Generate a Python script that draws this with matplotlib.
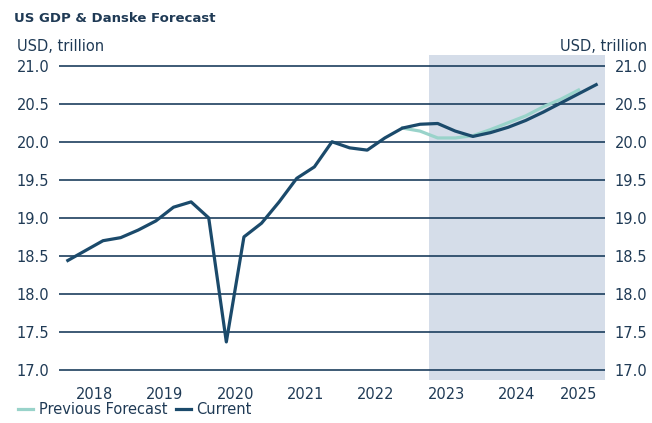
import numpy as np
import matplotlib
matplotlib.use("Agg")
import matplotlib.pyplot as plt

# Quarterly data, 2018Q1 - 2025Q3
quarters = [f"{y}Q{q}" for y in range(2018, 2026) for q in range(1, 5)][:31]

current = [18.44, 18.57, 18.70, 18.74,
           18.84, 18.96, 19.14, 19.21,
           19.00, 17.37, 18.75, 18.93,
           19.21, 19.52, 19.67, 20.00,
           19.92, 19.89, 20.05, 20.18,
           20.23, 20.24, 20.14, 20.07,
           20.12, 20.19, 20.28, 20.39,
           20.51, 20.63, 20.75]

# previous forecast runs 2022Q4 - 2025Q2
previous = [np.nan] * 19 + [20.18, 20.14, 20.05, 20.05,
                            20.08, 20.16, 20.25, 20.34,
                            20.46, 20.56, 20.68] + [np.nan]

years = ["2018", "2019", "2020", "2021", "2022", "2023", "2024", "2025"]
yticks = [17.0, 17.5, 18.0, 18.5, 19.0, 19.5, 20.0, 20.5, 21.0]

navy = "#1b4a6b"
teal = "#99d3ca"
text_col = "#1f3a55"
grid_col = "#1c3e5e"
shade = "#d5dde9"

plt.rcParams['font.family'] = ['DejaVu Sans']

fig = plt.figure(figsize=(6.52, 4.23), dpi=100)
ax = fig.add_axes([0.0905, 0.1017, 0.8374, 0.7683])

x = np.arange(len(quarters))
forecast_start = 20.5
ax.axvspan(forecast_start, len(quarters) - 0.5, color=shade, lw=0, zorder=0)

for t in yticks:
    ax.axhline(t, color=grid_col, lw=1.2, zorder=1)

ax.plot(x, previous, color=teal, lw=2.3, label="Previous Forecast", zorder=2)
ax.plot(x, current, color=navy, lw=2.3, label="Current", zorder=3)

ax.set_xlim(-0.5, len(quarters) - 0.5)
ax.set_ylim(16.87, 21.14)

# year labels centred on each year's quarters
year_pos = []
for yr in years:
    idx = [i for i, q in enumerate(quarters) if q.startswith(yr)]
    year_pos.append(np.mean(idx))
ax.set_xticks(year_pos)
ax.set_xticklabels(years)

ax.set_yticks(yticks)
ax.set_yticklabels([f"{t:.1f}" for t in yticks])
ax.tick_params(axis="y", length=0, labelright=True, labelsize=10.5,
               labelcolor=text_col, pad=7)
ax.tick_params(axis="x", length=0, labelsize=10.5, labelcolor=text_col, pad=5)

for s in ax.spines.values():
    s.set_visible(False)

fig.text(0.021, 0.957, "US GDP & Danske Forecast", fontsize=9.5,
         fontweight="bold", color=text_col, va="center")
fig.text(0.026, 0.889, "USD, trillion", fontsize=10.5, color=text_col, va="center")
fig.text(0.993, 0.889, "USD, trillion", fontsize=10.5, color=text_col,
         va="center", ha="right")

fig.legend(loc="lower left", bbox_to_anchor=(0.008, -0.018), ncol=2,
           frameon=False, fontsize=10.5, labelcolor=text_col,
           handlelength=1.0, handletextpad=0.4, columnspacing=0.6)

fig.savefig("out.png", dpi=100)
